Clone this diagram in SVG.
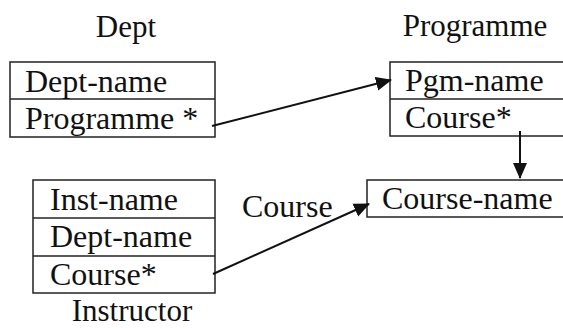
<svg xmlns="http://www.w3.org/2000/svg" width="563" height="329" viewBox="0 0 563 329">
<style>
text{font-family:"Liberation Serif","Times New Roman",serif;font-size:32px;fill:#111}
.title{font-size:31px}
.box{fill:#fff;stroke:#222;stroke-width:1.5}
.div{stroke:#222;stroke-width:1.5}
.conn{stroke:#111;stroke-width:2;fill:none}
</style>
<defs>
<marker id="ahl" markerWidth="16" markerHeight="16" refX="15" refY="8" orient="auto" markerUnits="userSpaceOnUse" viewBox="0 0 16 16">
<path d="M0,1 L16,8 L0,15 z" fill="#111"/>
</marker>
</defs>
<rect width="563" height="329" fill="#fff"/>
<g id="dept">
<text class="title" x="126" y="37" text-anchor="middle">Dept</text>
<rect class="box" x="10" y="62" width="205" height="75"/>
<line class="div" x1="10" y1="99" x2="215" y2="99"/>
<text x="25" y="92">Dept-name</text>
<text x="25" y="129">Programme *</text>
</g>
<g id="programme">
<text class="title" x="475" y="36" text-anchor="middle">Programme</text>
<rect class="box" x="390" y="62" width="180" height="74"/>
<line class="div" x1="390" y1="99" x2="570" y2="99"/>
<text x="405" y="91">Pgm-name</text>
<text x="405" y="128">Course*</text>
</g>
<g id="instructor">
<rect class="box" x="33" y="180" width="182" height="113"/>
<line class="div" x1="33" y1="218" x2="215" y2="218"/>
<line class="div" x1="33" y1="256" x2="215" y2="256"/>
<text x="50" y="210">Inst-name</text>
<text x="50" y="247">Dept-name</text>
<text x="50" y="285">Course*</text>
<text class="title" x="132" y="321" text-anchor="middle">Instructor</text>
</g>
<g id="course">
<rect class="box" x="367" y="180" width="203" height="37"/>
<text x="382" y="209">Course-name</text>
</g>
<g id="connectors">
<line class="conn" x1="212" y1="126" x2="391" y2="80" marker-end="url(#ahl)"/>
<line class="conn" x1="520" y1="131" x2="520" y2="178" marker-end="url(#ahl)"/>
<line class="conn" x1="213" y1="274" x2="369" y2="204" marker-end="url(#ahl)"/>
<text x="242" y="217">Course</text>
</g>
</svg>
